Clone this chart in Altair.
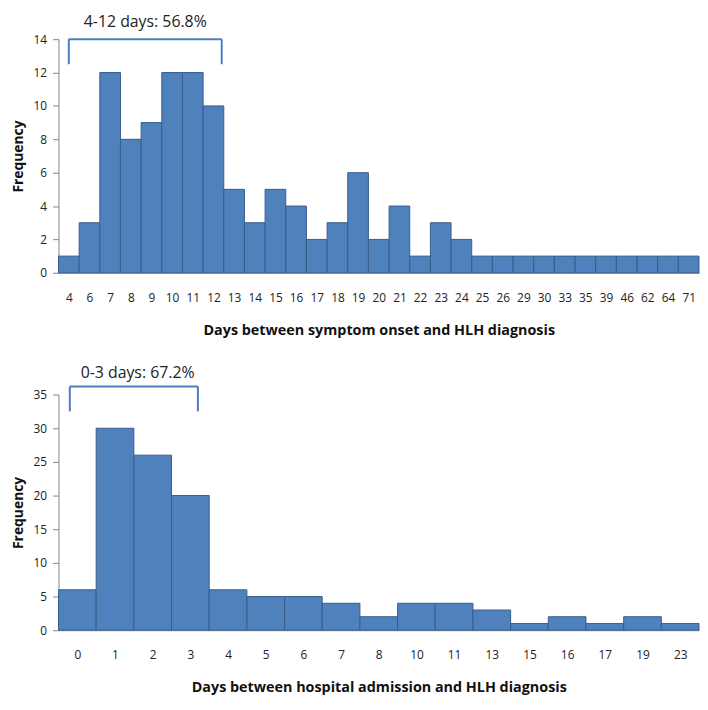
import json
import altair as alt
import pandas as pd

# Top panel: days between symptom onset and HLH diagnosis
onset_days = ["4", "6", "7", "8", "9", "10", "11", "12", "13", "14", "15", "16", "17", "18",
              "19", "20", "21", "22", "23", "24", "25", "26", "29", "30", "33", "35", "39",
              "46", "62", "64", "71"]
onset_freq = [1, 3, 12, 8, 9, 12, 12, 10, 5, 3, 5, 4, 2, 3, 6, 2, 4, 1, 3, 2,
              1, 1, 1, 1, 1, 1, 1, 1, 1, 1, 1]

# Bottom panel: days between hospital admission and HLH diagnosis
adm_days = ["0", "1", "2", "3", "4", "5", "6", "7", "8", "10", "11", "13", "15", "16",
            "17", "19", "23"]
adm_freq = [6, 30, 26, 20, 6, 5, 5, 4, 2, 4, 4, 3, 1, 2, 1, 2, 1]

BAR_FILL = "#4F81BD"
BAR_STROKE = "#385D8A"
BRACKET = "#4A7EBB"
FONT = "Open Sans"


def panel(cats, vals, ymax, ystep, title, height, br, txt, label):
    n = len(cats)
    df = pd.DataFrame({"x": list(range(n)), "x2": [k + 1 for k in range(n)],
                       "y": vals, "y2": [0] * n, "day": cats})
    label_expr = json.dumps(cats) + "[floor(datum.value)]"
    xs = alt.Scale(domain=[0, n], nice=False, zero=False)
    ys = alt.Scale(domain=[0, ymax], nice=False)
    xaxis = alt.Axis(values=[k + 0.5 for k in range(n)], labelExpr=label_expr,
                     ticks=False, grid=False, domainColor="#868686",
                     labelFontSize=12, labelColor="#222", labelPadding=20,
                     labelFont=FONT, title=title, titleFont=FONT,
                     titleFontSize=14.5, titleFontWeight="bold", titleColor="#111",
                     titlePadding=20, labelFlush=False, labelOverlap=False)
    yaxis = alt.Axis(values=list(range(0, ymax + 1, ystep)), grid=False,
                     domainColor="#868686", tickColor="#868686", tickSize=6,
                     labelFontSize=12, labelColor="#222", labelPadding=6,
                     labelFont=FONT, title="Frequency", titleFont=FONT,
                     titleFontSize=14, titleFontWeight="bold", titleColor="#111",
                     titlePadding=8, labelOverlap=False)
    bars = alt.Chart(df).mark_rect(fill=BAR_FILL, stroke=BAR_STROKE, strokeWidth=1).encode(
        x=alt.X("x:Q", scale=xs, axis=xaxis, title=title),
        x2="x2:Q",
        y=alt.Y("y:Q", scale=ys, axis=yaxis, title="Frequency"),
        y2="y2:Q",
    )
    x1, x2, yb, yt = br
    bdf = pd.DataFrame({"x": [x1, x1, x2], "x2": [x2, x1, x2],
                        "y": [yt, yb, yb], "y2": [yt, yt, yt]})
    rules = alt.Chart(bdf).mark_rule(color=BRACKET, strokeWidth=2).encode(
        x=alt.X("x:Q", scale=xs, axis=xaxis, title=title), x2="x2:Q",
        y=alt.Y("y:Q", scale=ys, axis=yaxis, title="Frequency"), y2="y2:Q")
    tdf = pd.DataFrame({"x": [txt[0]], "y": [txt[1]], "t": [label]})
    text = alt.Chart(tdf).mark_text(font=FONT, fontSize=16, color="#222",
                                    baseline="middle").encode(
        x=alt.X("x:Q", scale=xs, axis=xaxis, title=title),
        y=alt.Y("y:Q", scale=ys, axis=yaxis, title="Frequency"), text="t:N")
    return alt.layer(bars, rules, text).properties(width=647, height=height)


top = panel(onset_days, onset_freq, 14, 2,
            "Days between symptom onset and HLH diagnosis", 236,
            (0.5, 7.9, 12.5, 14.0), (4.2, 15.0), "4-12 days: 56.8%")
bottom = panel(adm_days, adm_freq, 35, 5,
               "Days between hospital admission and HLH diagnosis", 238,
               (0.3, 3.7, 32.5, 36.2), (2.1, 38.2), "0-3 days: 67.2%")

chart = alt.vconcat(top, bottom, spacing=28).properties(
    background="white",
    padding={"left": 3, "top": 3, "right": 0, "bottom": 0},
).configure_view(stroke=None)

chart.save("out.html", embed_options={"renderer": "svg", "actions": False})
